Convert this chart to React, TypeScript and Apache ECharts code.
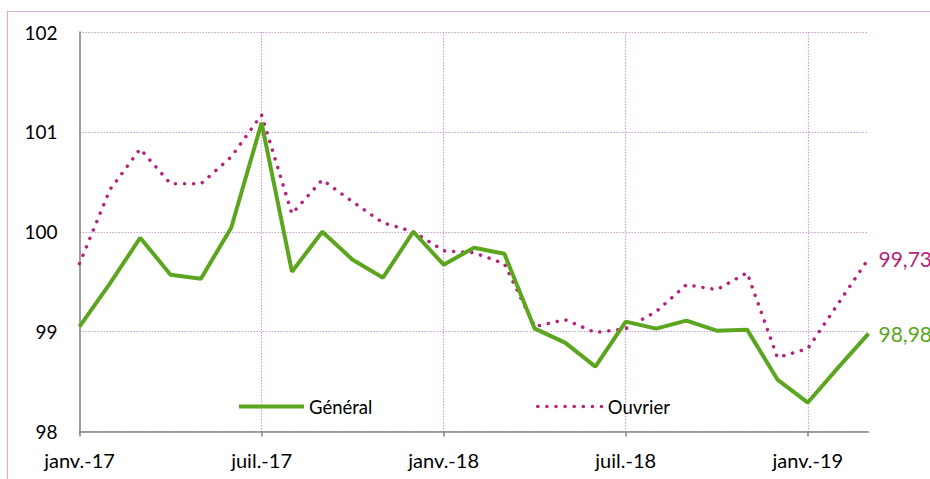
import React, { useEffect, useRef } from "react";
import * as echarts from "echarts";

const categories = [
  "janv.-17", "févr.-17", "mars-17", "avr.-17", "mai-17", "juin-17",
  "juil.-17", "août-17", "sept.-17", "oct.-17", "nov.-17", "déc.-17",
  "janv.-18", "févr.-18", "mars-18", "avr.-18", "mai-18", "juin-18",
  "juil.-18", "août-18", "sept.-18", "oct.-18", "nov.-18", "déc.-18",
  "janv.-19", "févr.-19", "mars-19",
];

const general = [
  99.05, 99.48, 99.94, 99.57, 99.53, 100.04, 101.09, 99.6, 100.0, 99.72,
  99.54, 100.0, 99.67, 99.84, 99.78, 99.03, 98.89, 98.65, 99.1, 99.03,
  99.11, 99.01, 99.02, 98.52, 98.29, 98.64, 98.98,
];

const ouvrier = [
  99.68, 100.42, 100.83, 100.48, 100.48, 100.75, 101.17, 100.18, 100.52, 100.3,
  100.09, 100.0, 99.81, 99.79, 99.68, 99.05, 99.12, 98.99, 99.03, 99.2,
  99.47, 99.42, 99.59, 98.74, 98.83, 99.28, 99.73,
];

const yTicks = { min: 98, max: 102, interval: 1 };

const GREEN = "#5ba51f";
const PINK = "#b5237a";
const GRID = "#cc9fd3";
const FONT = "Lato";

const fmt = (v: number) => v.toFixed(2).replace(".", ",");

export default function App() {
  const ref = useRef<HTMLDivElement>(null);

  useEffect(() => {
    if (!ref.current) return;
    const chart = echarts.init(ref.current, undefined, { renderer: "svg" });
    const showEvery6 = (i: number) => i % 6 === 0;
    const legendBase = {
      top: 397,
      padding: 0,
      itemWidth: 65,
      itemHeight: 12,
      itemStyle: { opacity: 0 },
      textStyle: { fontFamily: FONT, fontSize: 18.5, color: "#000" },
    };
    chart.setOption({
      animation: false,
      backgroundColor: "#ffffff",
      textStyle: { fontFamily: FONT },
      graphic: [
        {
          type: "rect",
          shape: { x: 7.5, y: 11.5, width: 1000, height: 1000 },
          style: { fill: "none", stroke: "#d3aedb", lineWidth: 1.2 },
          silent: true,
        },
      ],
      grid: { left: 79.5, right: 61.5, top: 32, bottom: 47.5, containLabel: false },
      legend: [
        {
          ...legendBase,
          data: ["Général"],
          left: 237,
          lineStyle: { width: 4, color: GREEN },
        },
        {
          ...legendBase,
          data: ["Ouvrier"],
          left: 536,
          lineStyle: { width: 3.5, color: PINK, type: [0.1, 9], cap: "round" },
        },
      ],
      xAxis: {
        type: "category",
        data: categories,
        boundaryGap: false,
        axisLine: { lineStyle: { color: "#868686", width: 1.6 } },
        axisTick: { show: true, interval: showEvery6, length: 5, lineStyle: { color: "#868686", width: 1.6 } },
        axisLabel: {
          interval: showEvery6,
          margin: 18,
          fontFamily: FONT,
          fontSize: 20,
          color: "#000",
        },
        splitLine: {
          show: true,
          interval: (i: number) => i % 6 === 0 && i > 0,
          lineStyle: { color: GRID, type: [1.5, 1.5], width: 1.2 },
        },
      },
      yAxis: {
        type: "value",
        min: yTicks.min,
        max: yTicks.max,
        interval: yTicks.interval,
        axisLine: { show: true, lineStyle: { color: "#868686", width: 1.6 } },
        axisTick: { show: false },
        axisLabel: { margin: 22, fontFamily: FONT, fontSize: 19, color: "#000" },
        splitLine: { show: true, lineStyle: { color: GRID, type: [1.5, 1.5], width: 1.2 } },
      },
      series: [
        {
          name: "Ouvrier",
          type: "line",
          data: ouvrier,
          symbol: "none",
          z: 2,
          lineStyle: { color: PINK, width: 3.5, type: [0.1, 9], cap: "round" },
          itemStyle: { color: PINK },
          endLabel: {
            show: true,
            formatter: (p: any) => fmt(p.value),
            color: PINK,
            fontFamily: FONT,
            fontSize: 21,
            distance: 10,
          },
        },
        {
          name: "Général",
          type: "line",
          data: general,
          symbol: "none",
          z: 3,
          lineStyle: { color: GREEN, width: 4 },
          itemStyle: { color: GREEN },
          endLabel: {
            show: true,
            formatter: (p: any) => fmt(p.value),
            color: GREEN,
            fontFamily: FONT,
            fontSize: 21,
            distance: 10,
          },
        },
      ],
    });
    return () => chart.dispose();
  }, []);

  return (
    <div
      ref={ref}
      style={{ position: "absolute", left: 0, top: 0, width: 930, height: 479 }}
    />
  );
}
